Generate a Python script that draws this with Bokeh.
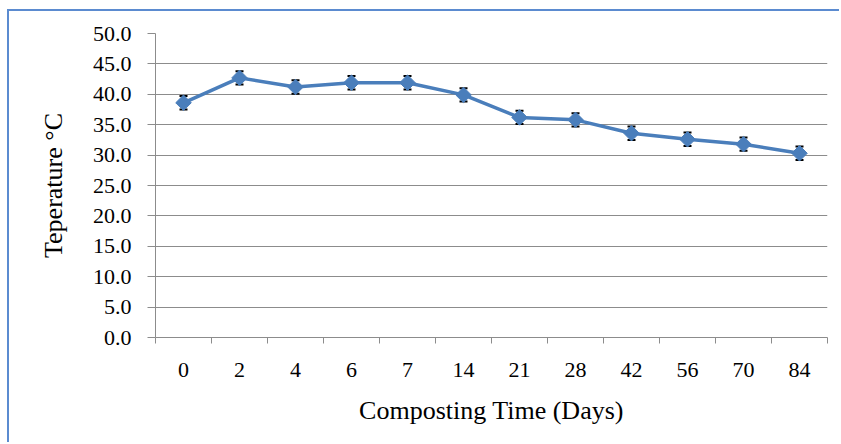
from bokeh.plotting import figure
from bokeh.models import FixedTicker, Range1d, Whisker, ColumnDataSource, PrintfTickFormatter
from bokeh.embed import file_html
from bokeh.resources import INLINE

# Data
days = ["0", "2", "4", "6", "7", "14", "21", "28", "42", "56", "70", "84"]
temperature = [38.6, 42.7, 41.2, 41.9, 41.9, 39.9, 36.2, 35.8, 33.6, 32.6, 31.8, 30.3]
error = [1.1, 1.1, 1.1, 1.1, 1.1, 1.1, 1.1, 1.1, 1.1, 1.1, 1.1, 1.1]
y_ticks = [0, 5, 10, 15, 20, 25, 30, 35, 40, 45, 50]

n = len(days)
xpos = [i + 0.5 for i in range(n)]
src = ColumnDataSource(dict(
    x=xpos, y=temperature,
    upper=[t + e for t, e in zip(temperature, error)],
    lower=[t - e for t, e in zip(temperature, error)],
))

FONT = "Liberation Serif"
BLUE = "#4a7ebb"
GRAY = "#8c8c8c"

p = figure(width=832, height=433, x_range=Range1d(0, n), y_range=Range1d(0, 50),
           output_backend="svg", toolbar_location=None,
           min_border_left=146, min_border_right=14, min_border_top=22, min_border_bottom=107)
p.outline_line_color = None
p.background_fill_color = "white"
p.border_fill_color = "white"
p.styles = {"border-top": "2px solid #5b8bd0", "border-left": "2px solid #5b8bd0",
            "box-sizing": "border-box", "margin-left": "7px", "margin-top": "9px"}

# x axis: labels at category centres, ticks at category boundaries
p.xaxis.ticker = FixedTicker(ticks=xpos, minor_ticks=list(range(n + 1)))
p.xaxis.major_label_overrides = {x: d for x, d in zip(xpos, days)}
p.xaxis.major_tick_line_color = None
p.xaxis.major_tick_out = 6
p.xaxis.major_tick_in = 0
p.xaxis.minor_tick_line_color = GRAY
p.xaxis.minor_tick_out = 6
p.xaxis.minor_tick_in = 0
p.xaxis.axis_line_color = GRAY
p.xaxis.major_label_standoff = 19
p.xaxis.major_label_text_font = FONT
p.xaxis.major_label_text_font_size = "22px"
p.xaxis.major_label_text_color = "black"
p.xaxis.axis_label = "Composting Time (Days)"
p.xaxis.axis_label_text_font = FONT
p.xaxis.axis_label_text_font_size = "26px"
p.xaxis.axis_label_text_font_style = "normal"
p.xaxis.axis_label_text_color = "black"
p.xaxis.axis_label_standoff = 16
p.xgrid.visible = False

# y axis
p.yaxis.ticker = FixedTicker(ticks=y_ticks)
p.yaxis.formatter = PrintfTickFormatter(format="%.1f")
p.yaxis.major_tick_line_color = GRAY
p.yaxis.major_tick_out = 8
p.yaxis.major_tick_in = 0
p.yaxis.minor_tick_line_color = None
p.yaxis.axis_line_color = GRAY
p.yaxis.major_label_standoff = 16
p.yaxis.major_label_text_font = FONT
p.yaxis.major_label_text_font_size = "22px"
p.yaxis.major_label_text_color = "black"
p.yaxis.axis_label = "Teperature °C"
p.yaxis.axis_label_text_font = FONT
p.yaxis.axis_label_text_font_size = "26px"
p.yaxis.axis_label_text_font_style = "normal"
p.yaxis.axis_label_text_color = "black"
p.yaxis.axis_label_standoff = 22
p.ygrid.grid_line_color = GRAY
p.ygrid.grid_line_width = 1

p.line("x", "y", source=src, line_color=BLUE, line_width=3.5)

w = Whisker(base="x", upper="upper", lower="lower", source=src,
            line_color="black", line_width=1.5, level="underlay")
w.upper_head.size = 8
w.lower_head.size = 8
w.upper_head.line_color = "black"
w.lower_head.line_color = "black"
w.upper_head.line_width = 2
w.lower_head.line_width = 2
p.add_layout(w)

p.scatter("x", "y", source=src, marker="square", size=11, angle=0.785398,
          fill_color=BLUE, line_color=BLUE)

open("out.html", "w").write(file_html(p, INLINE))
